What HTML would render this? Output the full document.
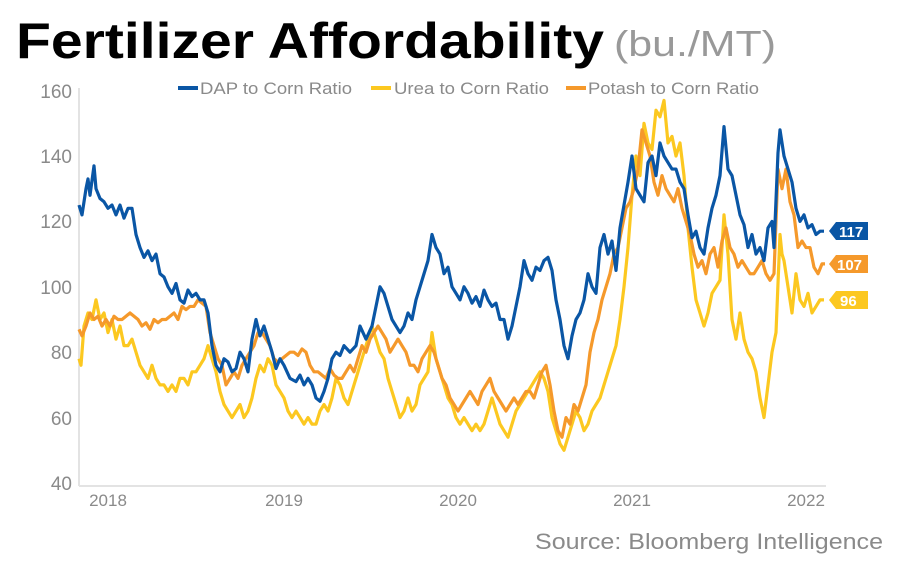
<!DOCTYPE html>
<html><head><meta charset="utf-8"><style>
body{margin:0;background:#fff;width:900px;height:570px;overflow:hidden;font-family:"Liberation Sans",sans-serif}
</style></head><body>
<svg width="900" height="570" xmlns="http://www.w3.org/2000/svg" font-family="Liberation Sans, sans-serif">
<text x="16" y="58" font-size="50" font-weight="bold" fill="#000" textLength="588" lengthAdjust="spacingAndGlyphs">Fertilizer Affordability</text>
<text x="614" y="56" font-size="36" fill="#999" textLength="162" lengthAdjust="spacingAndGlyphs">(bu./MT)</text>
<g font-size="17" fill="#8a8a8a">
<line x1="178" y1="88" x2="198" y2="88" stroke="#0a56a5" stroke-width="4"/><text x="200" y="94" textLength="152" lengthAdjust="spacingAndGlyphs">DAP to Corn Ratio</text>
<line x1="371" y1="88" x2="391" y2="88" stroke="#fcc820" stroke-width="4"/><text x="394" y="94" textLength="155" lengthAdjust="spacingAndGlyphs">Urea to Corn Ratio</text>
<line x1="566" y1="88" x2="586" y2="88" stroke="#f5992b" stroke-width="4"/><text x="588" y="94" textLength="171" lengthAdjust="spacingAndGlyphs">Potash to Corn Ratio</text>
</g>
<g font-size="19" fill="#8a8a8a" text-anchor="end">
<text x="72" y="98">160</text><text x="72" y="163">140</text><text x="72" y="228">120</text><text x="72" y="294">100</text><text x="72" y="359">80</text><text x="72" y="425">60</text><text x="72" y="490">40</text>
</g>
<line x1="79" y1="88" x2="79" y2="486" stroke="#e3e3e3" stroke-width="2"/>
<line x1="79" y1="486" x2="826" y2="486" stroke="#e3e3e3" stroke-width="2"/>
<g font-size="17" fill="#8a8a8a" text-anchor="middle">
<text x="108" y="506">2018</text><text x="284" y="506">2019</text><text x="458" y="506">2020</text><text x="632" y="506">2021</text><text x="806" y="506">2022</text>
</g>
<g transform="translate(0,483) scale(1,-3.27) translate(0,-40)" fill="none" stroke-width="3.2" stroke-linejoin="round">
<polyline vector-effect="non-scaling-stroke" stroke="#fcc820" points="79,78 81,76 84,88 88,92 92,90 96,96 100,90 104,92 108,86 112,90 116,84 120,88 124,82 128,82 132,84 136,80 140,76 144,74 148,72 152,76 156,72 160,70 164,70 168,68 172,70 176,68 180,72 184,72 188,70 192,74 196,74 200,76 204,78 208,82 212,78 216,74 220,68 224,64 228,62 232,60 236,62 240,64 244,60 248,62 252,66 256,72 260,76 264,74 268,78 272,76 276,70 280,68 284,66 288,62 292,60 296,62 300,60 304,58 308,60 312,58 316,58 320,62 324,64 328,62 332,66 336,72 340,70 344,66 348,64 352,68 356,72 360,76 364,80 368,84 372,88 376,84 380,80 384,78 388,72 392,68 396,64 400,60 404,62 408,66 412,62 416,64 420,70 424,72 428,74 432,86 436,78 440,74 444,70 448,66 452,64 456,60 460,58 464,60 468,58 472,56 476,58 480,56 484,58 488,62 492,66 496,62 500,58 504,56 508,54 512,58 516,62 520,64 524,66 528,68 532,70 536,72 540,74 544,72 548,68 552,60 556,56 560,52 564,50 568,54 572,58 576,62 580,60 584,56 588,58 592,62 596,64 600,66 604,70 608,74 612,78 616,82 620,90 624,100 628,112 632,128 636,140 640,134 644,150 648,144 652,142 656,154 660,152 664,157 668,144 672,146 676,140 680,144 684,134 688,118 692,106 696,96 700,92 704,88 708,92 712,98 716,100 720,102 724,122 728,110 732,90 736,84 740,92 744,84 748,80 752,78 756,74 760,66 764,60 768,70 772,80 776,86 780,116 782,110 784,108 788,100 792,92 796,104 800,96 804,94 808,98 812,92 816,94 820,96 824,96"/>
<polyline vector-effect="non-scaling-stroke" stroke="#f5992b" points="79,87 82,85 86,88 90,92 94,90 98,91 102,88 106,90 110,88 114,91 118,90 122,90 126,91 130,92 134,91 138,90 142,88 146,89 150,87 154,90 158,89 162,90 166,90 170,91 174,92 178,90 182,94 186,93 190,94 194,94 198,96 202,95 206,94 210,86 214,82 218,78 222,76 226,70 230,72 234,74 238,72 242,76 246,78 250,80 254,82 258,86 262,86 266,84 270,82 274,78 278,77 282,78 286,79 290,80 294,80 298,79 302,81 306,80 310,76 314,74 318,74 322,73 326,72 330,75 334,73 338,72 342,72 346,74 350,76 354,74 358,78 362,82 366,80 370,84 374,86 378,88 382,86 386,84 390,80 394,82 398,84 402,82 406,80 410,76 414,76 418,74 422,78 426,80 430,82 434,80 438,76 442,72 446,70 450,66 454,64 458,62 462,64 466,66 470,68 474,66 478,64 482,68 486,70 490,72 494,68 498,66 502,64 506,62 510,64 514,66 518,64 522,66 526,68 530,68 534,66 538,70 542,74 546,76 550,70 554,62 558,56 562,54 566,60 570,58 574,64 578,62 582,66 586,70 590,80 594,86 598,90 602,96 606,100 610,104 614,110 618,112 622,118 626,124 630,126 634,130 638,136 642,148 646,144 650,140 654,132 658,128 662,134 666,130 670,128 674,126 678,130 682,124 686,120 690,116 694,110 698,106 702,108 706,104 710,110 714,112 718,106 722,114 726,118 730,112 734,110 738,106 742,108 746,106 750,104 754,104 758,106 762,108 766,104 770,102 774,104 778,136 782,130 786,136 790,126 794,122 798,112 802,114 806,112 810,112 814,106 818,104 822,107 825,107"/>
<polyline vector-effect="non-scaling-stroke" stroke="#0a56a5" points="79,125 82,122 86,130 88,133 90,128 94,137 96,130 100,127 104,126 108,124 112,125 116,122 120,125 124,121 128,124 132,124 136,116 140,112 144,109 148,111 152,108 156,110 160,104 164,103 168,100 172,98 176,101 180,96 184,95 188,99 192,97 196,98 200,96 204,96 208,92 212,82 216,76 220,74 224,78 228,77 232,74 236,75 240,80 244,78 248,74 252,84 256,90 260,85 264,88 268,84 272,80 276,75 280,78 284,76 290,72 296,71 300,73 304,70 308,72 312,70 316,66 320,65 324,68 328,72 332,78 336,80 340,79 344,82 350,80 356,82 360,88 366,84 372,88 376,94 380,100 384,98 388,94 392,90 396,88 400,86 404,88 408,92 412,90 416,96 420,100 424,104 428,108 432,116 436,112 440,110 444,104 448,106 452,100 456,98 460,96 464,100 468,98 472,95 476,97 480,94 484,99 488,96 492,94 496,95 500,90 504,90 508,84 512,88 516,94 520,100 524,108 528,104 532,102 536,106 540,105 544,108 548,109 552,105 556,96 560,90 564,82 568,78 572,85 576,90 580,92 584,96 588,104 592,100 596,98 600,112 604,116 608,110 612,114 616,105 620,118 624,125 628,132 632,140 636,130 640,128 644,126 648,138 652,140 656,134 660,144 664,140 668,138 672,136 676,136 680,132 684,130 688,122 692,115 696,117 700,112 704,110 708,118 712,124 716,128 720,134 724,149 728,136 732,134 736,128 740,122 744,119 748,112 752,116 756,110 760,112 764,108 768,118 772,120 774,112 778,141 780,148 784,140 788,136 792,132 796,124 800,120 804,122 808,118 812,119 816,116 820,117 824,117"/>
</g>
<g font-size="15" font-weight="bold" fill="#fff">
<polygon points="829,231 836,222 868,222 868,240 836,240" fill="#0a56a5"/><text x="839" y="237">117</text>
<polygon points="829,264 836,255 868,255 868,273 836,273" fill="#f5992b"/><text x="837" y="270">107</text>
<polygon points="829,300 836,291 868,291 868,309 836,309" fill="#fcc820"/><text x="840" y="306">96</text>
</g>
<text x="535" y="549" font-size="22" fill="#8a8a8a" textLength="348" lengthAdjust="spacingAndGlyphs">Source: Bloomberg Intelligence</text>
</svg>
</body></html>
